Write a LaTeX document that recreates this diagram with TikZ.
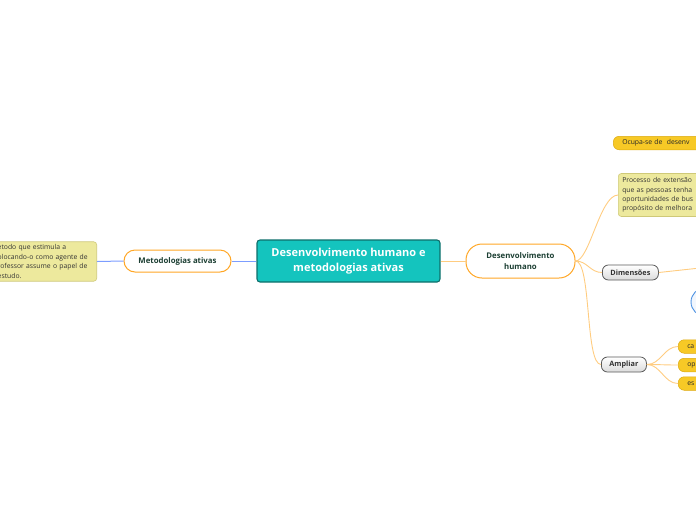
\documentclass[tikz,border=0pt]{standalone}
\usepackage{fontspec}
\setmainfont{Open Sans}
\usetikzlibrary{positioning}

\definecolor{rootfill}{HTML}{14C4BE}
\definecolor{rootline}{HTML}{0E6F6B}
\definecolor{topictxt}{HTML}{1C3F33}
\definecolor{topicline}{HTML}{FFA726}
\definecolor{notefill}{HTML}{EDE99D}
\definecolor{noteline}{HTML}{CFC978}
\definecolor{pillfill}{HTML}{F7C926}
\definecolor{pillline}{HTML}{DDAA10}
\definecolor{linkor}{HTML}{FFCC80}
\definecolor{linkbl}{HTML}{7C9DFF}
\definecolor{circline}{HTML}{4A90E2}

\begin{document}
\begin{tikzpicture}[
  x=1pt, y=-1pt,
  rootbox/.style  = {rectangle, rounded corners=3pt, fill=rootfill, draw=rootline,
                     line width=1.1pt, text=white, align=center,
                     font=\fontsize{11}{14.5}\selectfont\bfseries,
                     minimum width=183pt, minimum height=42pt},
  topic/.style    = {rounded corners=11pt, fill=white, draw=topicline, line width=1pt,
                     text=topictxt, align=center, font=\fontsize{7.8}{11}\selectfont\bfseries,
                     minimum height=22pt},
  notebox/.style  = {rectangle, rounded corners=3pt, fill=notefill, draw=noteline,
                     line width=0.6pt, align=left, text=black!80,
                     font=\fontsize{6.8}{9.4}\selectfont, inner sep=3pt},
  graypill/.style = {rounded corners=6pt, top color=white, bottom color=black!14,
                     draw=black!65, line width=0.8pt, text=black!80,
                     font=\fontsize{7.3}{8}\selectfont\bfseries,
                     minimum height=15pt, inner xsep=8pt},
  ypill/.style    = {rounded corners=6pt, fill=pillfill, draw=pillline, line width=0.5pt,
                     text=black!85, font=\fontsize{6.8}{8}\selectfont,
                     minimum height=13.5pt, text width=40pt, align=left, inner xsep=9pt},
  orlink/.style   = {draw=linkor, line width=0.9pt},
  bllink/.style   = {draw=linkbl, line width=1pt},
]
\useasboundingbox (0,0) rectangle (696,520);
\clip (0,0) rectangle (696,520);

%% ------------------------------------------------------------------ CENTRE
\node[rootbox] (root) at (348.5,261) {Desenvolvimento humano e\\metodologias ativas};

%% ------------------------------------------------------------------ LEFT SIDE
\node[topic, minimum width=107pt] (meto) at (177.5,261) {Metodologias ativas};
\node[notebox, anchor=east, text width=96pt] (metonote) at (97,261.5)
  {etodo que estimula a\\olocando-o como agente de\\rofessor assume o papel de\\estudo.};

\draw[bllink] (root.west) -- (meto.east);
\draw[bllink] (meto.west) -- (metonote.east);

%% ------------------------------------------------------------------ RIGHT SIDE
\node[topic, minimum width=109pt, minimum height=34pt, rounded corners=16pt] (dh) at (520.5,261)
  {Desenvolvimento\\humano};
\draw[orlink] (root.east) -- (dh.west);

\node[ypill, anchor=west, text width=78pt] (ocupa) at (613,143) {Ocupa-se de\ \ desenv};

\node[notebox, anchor=west, text width=90pt, inner sep=4pt] (proc) at (618,195)
  {Processo de extensão\\que as pessoas tenha\\oportunidades de bus\\propósito de melhora};

\node[graypill, anchor=west] (dim) at (602,272.5) {Dimensões};
\node[graypill, anchor=west] (amp) at (601,364.5) {Ampliar};

\node[circle, draw=circline, fill=circline!8, line width=0.9pt, minimum size=28pt] (circ) at (705,302) {};

\coordinate (dimout) at (700,268);

% branches of the topic
\draw[orlink] (dh.east) .. controls +(14,0) and +(-18,0) .. (proc.west);
\draw[orlink] (dh.east) .. controls +(12,0) and +(-12,0) .. (dim.west);
\draw[orlink] (dh.east) .. controls +(16,0) and +(-16,0) .. (amp.west);
\draw[orlink] (dim.east) -- (dimout);

% children of Ampliar
\node[ypill, anchor=west] (amp1) at (678,346.5) {ca};
\node[ypill, anchor=west] (amp2) at (678,365)   {op};
\node[ypill, anchor=west] (amp3) at (678,383.5) {es};
\foreach \c in {amp1,amp2,amp3}
  \draw[orlink] (amp.east) .. controls +(14,0) and +(-14,0) .. (\c.west);

\end{tikzpicture}
\end{document}
